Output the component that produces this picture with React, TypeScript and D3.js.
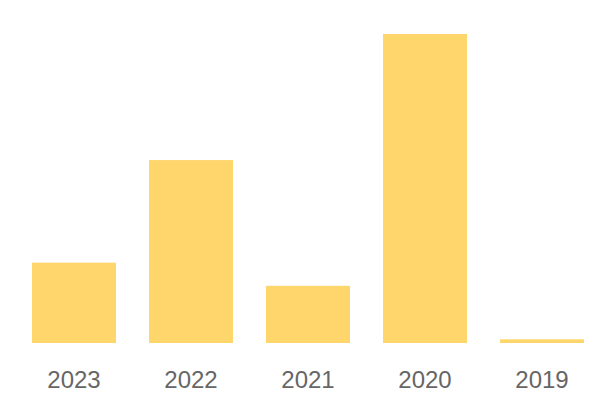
import React from "react";
import * as d3 from "d3";

const categories = ["2023", "2022", "2021", "2020", "2019"];
const values = [26, 59.2, 18.5, 100, 1.2];

const W = 600;
const H = 400;

export default function App() {
  const step = 117;
  const x = d3
    .scaleBand<string>()
    .domain(categories)
    .range([32 - 16.5, 584 + 16.5])
    .paddingInner(33 / step)
    .paddingOuter(16.5 / step);
  const y = d3.scaleLinear().domain([0, 100]).range([343, 34]);

  return (
    <svg
      width={W}
      height={H}
      style={{ position: "absolute", left: 0, top: 0, background: "#fff" }}
    >
      {categories.map((c, i) => (
        <rect
          key={c}
          x={x(c)}
          y={y(values[i])}
          width={x.bandwidth()}
          height={y(0) - y(values[i])}
          fill="#fed66b"
        />
      ))}
      {categories.map((c) => (
        <text
          key={"t" + c}
          x={(x(c) as number) + x.bandwidth() / 2}
          y={388}
          textAnchor="middle"
          fontFamily="'Liberation Sans', Arial, sans-serif"
          fontSize={24}
          fill="#666"
        >
          {c}
        </text>
      ))}
    </svg>
  );
}
